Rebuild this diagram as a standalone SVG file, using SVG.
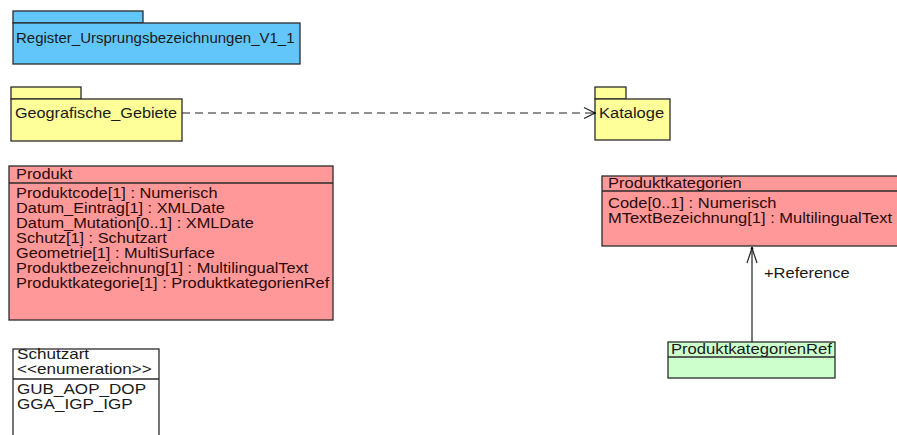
<svg xmlns="http://www.w3.org/2000/svg" width="897" height="435" viewBox="0 0 897 435">
<style>
  text { font-family: "Liberation Sans", Arial, sans-serif; font-size: 15px; fill: #1a1a1a; }
  .pink text { fill: #2a0a0a; }
  .small text { font-size: 14px; }
  .box { stroke: #2b2b2b; stroke-width: 1.3; }
  .blue { fill: #62c6fb; }
  .yellow { fill: #ffff99; }
  .red { fill: #ff9999; }
  .green { fill: #ccffcc; }
  .white { fill: #ffffff; }
  .sep { stroke: #2b2b2b; stroke-width: 1.3; }
  .conn { stroke: #222; stroke-width: 1.2; fill: none; }
</style>
<rect width="897" height="435" fill="#ffffff"/>

<g id="Register_Ursprungsbezeichnungen_V1_1">
  <rect class="box blue" x="13" y="11" width="130" height="12"/>
  <rect class="box blue" x="13" y="23" width="287" height="41"/>
  <text x="16" y="43">Register_Ursprungsbezeichnungen_V1_1</text>
</g>

<g id="Geografische_Gebiete">
  <rect class="box yellow" x="11" y="87" width="70" height="12"/>
  <rect class="box yellow" x="11" y="99" width="171" height="42"/>
  <text x="15" y="118" transform="translate(15 0) scale(1.08 1) translate(-15 0)">Geografische_Gebiete</text>
</g>

<g id="Kataloge">
  <rect class="box yellow" x="595" y="87" width="31" height="12"/>
  <rect class="box yellow" x="595" y="99" width="75" height="41"/>
  <text x="599" y="118" transform="translate(599 0) scale(1.1 1) translate(-599 0)">Kataloge</text>
</g>

<g id="Produkt" class="pink">
  <rect class="box red" x="9" y="166" width="324" height="154"/>
  <line class="sep" x1="9" y1="183" x2="333" y2="183"/>
  <g transform="translate(16 0) scale(1.09 1) translate(-16 0)">
    <text x="16" y="179">Produkt</text>
    <text x="16" y="198">Produktcode[1] : Numerisch</text>
    <text x="16" y="213">Datum_Eintrag[1] : XMLDate</text>
    <text x="16" y="228">Datum_Mutation[0..1] : XMLDate</text>
    <text x="16" y="243">Schutz[1] : Schutzart</text>
    <text x="16" y="258">Geometrie[1] : MultiSurface</text>
    <text x="16" y="273">Produktbezeichnung[1] : MultilingualText</text>
    <text x="16" y="288">Produktkategorie[1] : ProduktkategorienRef</text>
  </g>
</g>

<g id="Produktkategorien" class="pink">
  <rect class="box red" x="602" y="176" width="300" height="70"/>
  <line class="sep" x1="602" y1="191" x2="902" y2="191"/>
  <g transform="translate(608 0) scale(1.1 1) translate(-608 0)">
    <text x="608" y="188">Produktkategorien</text>
    <text x="608" y="208">Code[0..1] : Numerisch</text>
    <text x="608" y="223">MTextBezeichnung[1] : MultilingualText</text>
  </g>
</g>

<g id="ProduktkategorienRef">
  <rect class="box green" x="668" y="342" width="167" height="36"/>
  <line class="sep" x1="668" y1="357" x2="835" y2="357"/>
  <text x="671" y="354" transform="translate(671 0) scale(1.11 1) translate(-671 0)">ProduktkategorienRef</text>
</g>

<g id="Schutzart" class="small">
  <rect class="box white" x="13" y="349" width="146" height="95"/>
  <line class="sep" x1="13" y1="379" x2="159" y2="379"/>
  <g transform="translate(17 0) scale(1.22 1) translate(-17 0)">
    <text x="17" y="359.5">Schutzart</text>
    <text x="17" y="374">&lt;&lt;enumeration&gt;&gt;</text>
    <text x="17" y="394.5">GUB_AOP_DOP</text>
    <text x="17" y="409">GGA_IGP_IGP</text>
  </g>
</g>

<g id="connectors">
  <g id="dep_Geografische_Kataloge">
    <line class="conn" x1="182" y1="113" x2="595" y2="113" stroke-dasharray="8 5"/>
    <polyline class="conn" points="584,107.5 595,113 584,118.5"/>
    <circle cx="594.5" cy="113" r="1.3" fill="#111"/>
  </g>
  <g id="assoc_Reference">
    <line class="conn" x1="752" y1="247" x2="752" y2="342"/>
    <polyline class="conn" points="747,263 752,248 757,263"/>
    <circle cx="752" cy="248.5" r="1.3" fill="#111"/>
    <text x="764" y="278" transform="translate(764 0) scale(1.1 1) translate(-764 0)">+Reference</text>
  </g>
</g>
</svg>
